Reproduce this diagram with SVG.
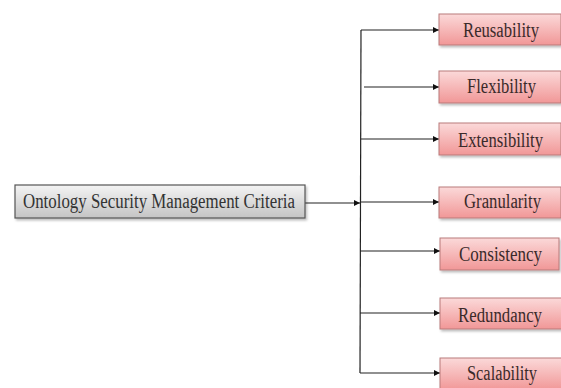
<svg xmlns="http://www.w3.org/2000/svg" width="561" height="388" viewBox="0 0 561 388">
<style>
.pk{fill:url(#gp);stroke:#b97a7a;stroke-width:1}
.mn{fill:url(#gg);stroke:#555;stroke-width:1.2}
.t{font-family:"Liberation Serif","Times New Roman",serif;font-size:20px;fill:#3a2a2a}
.tm{font-family:"Liberation Serif","Times New Roman",serif;font-size:20px;fill:#333}
.ln{stroke:#222;stroke-width:1.2;fill:none}
</style>
<defs>
<linearGradient id="gp" x1="0" y1="0" x2="0" y2="1">
<stop offset="0" stop-color="#fbd9d9"/>
<stop offset="1" stop-color="#f19797"/>
</linearGradient>
<linearGradient id="gg" x1="0" y1="0" x2="0" y2="1">
<stop offset="0" stop-color="#f4f4f4"/>
<stop offset="1" stop-color="#c4c4c4"/>
</linearGradient>
<marker id="ar" viewBox="0 0 10 10" refX="10" refY="5" markerWidth="6" markerHeight="6" markerUnits="userSpaceOnUse" orient="auto">
<path d="M0,0 L10,5 L0,10 z" fill="#111"/>
</marker>
<filter id="sh" x="-5%" y="-10%" width="115%" height="140%">
<feDropShadow dx="1.5" dy="2" stdDeviation="1" flood-color="#000" flood-opacity="0.25"/>
</filter>
</defs>
<g id="connectors">
<line class="ln" x1="305" y1="203" x2="360" y2="203" marker-end="url(#ar)"/>
<line class="ln" x1="361" y1="30" x2="360" y2="373"/>
<line class="ln" x1="361" y1="30" x2="439" y2="30" marker-end="url(#ar)"/>
<line class="ln" x1="364" y1="87" x2="439" y2="87" marker-end="url(#ar)"/>
<line class="ln" x1="361" y1="139" x2="439" y2="139" marker-end="url(#ar)"/>
<line class="ln" x1="360" y1="202" x2="439" y2="202" marker-end="url(#ar)"/>
<line class="ln" x1="360" y1="251" x2="440" y2="251" marker-end="url(#ar)"/>
<line class="ln" x1="360" y1="313" x2="440" y2="313" marker-end="url(#ar)"/>
<line class="ln" x1="360" y1="373" x2="440" y2="373" marker-end="url(#ar)"/>
</g>
<g id="root">
<rect class="mn" x="15" y="185" width="290" height="33" filter="url(#sh)"/>
<text class="tm" x="23" y="208" textLength="272" lengthAdjust="spacingAndGlyphs">Ontology Security Management Criteria</text>
</g>
<g id="reusability">
<rect class="pk" x="439" y="14" width="122" height="31" filter="url(#sh)"/>
<text class="t" x="463" y="37" textLength="76" lengthAdjust="spacingAndGlyphs">Reusability</text>
</g>
<g id="flexibility">
<rect class="pk" x="439" y="71" width="122" height="32" filter="url(#sh)"/>
<text class="t" x="467" y="93" textLength="69" lengthAdjust="spacingAndGlyphs">Flexibility</text>
</g>
<g id="extensibility">
<rect class="pk" x="439" y="123" width="122" height="32" filter="url(#sh)"/>
<text class="t" x="458" y="147" textLength="85" lengthAdjust="spacingAndGlyphs">Extensibility</text>
</g>
<g id="granularity">
<rect class="pk" x="439" y="187" width="122" height="31" filter="url(#sh)"/>
<text class="t" x="464" y="208" textLength="77" lengthAdjust="spacingAndGlyphs">Granularity</text>
</g>
<g id="consistency">
<rect class="pk" x="440" y="238" width="119" height="32" filter="url(#sh)"/>
<text class="t" x="459" y="261" textLength="83" lengthAdjust="spacingAndGlyphs">Consistency</text>
</g>
<g id="redundancy">
<rect class="pk" x="440" y="298" width="122" height="31" filter="url(#sh)"/>
<text class="t" x="458" y="322" textLength="84" lengthAdjust="spacingAndGlyphs">Redundancy</text>
</g>
<g id="scalability">
<rect class="pk" x="440" y="358" width="122" height="32" filter="url(#sh)"/>
<text class="t" x="467" y="380" textLength="70" lengthAdjust="spacingAndGlyphs">Scalability</text>
</g>
</svg>
